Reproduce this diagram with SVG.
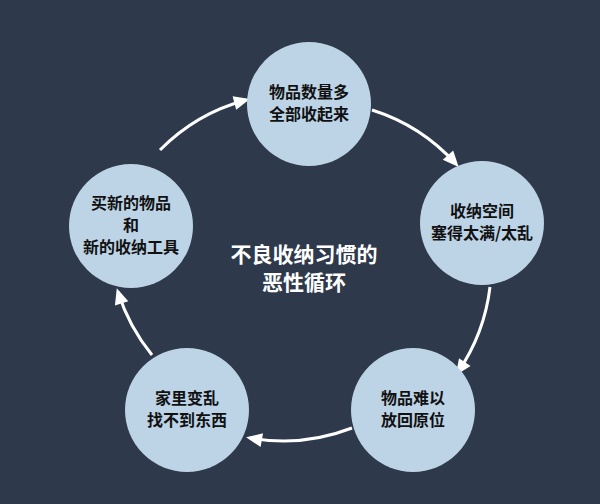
<svg xmlns="http://www.w3.org/2000/svg" width="600" height="504" viewBox="0 0 600 504">
<defs>
<style>
.n{fill:#bdd4e7}
.t{font-family:"Noto Sans CJK SC",sans-serif;font-weight:bold;font-size:16px;fill:#111;text-anchor:middle}
.c{font-family:"Noto Sans CJK SC",sans-serif;font-weight:bold;font-size:21px;fill:#fff;text-anchor:middle}
.e{fill:none;stroke:#fff;stroke-width:3;marker-end:url(#a)}
</style>
<marker id="a" viewBox="-2 -8 20 16" refX="12" refY="0" markerWidth="20" markerHeight="16" orient="auto" markerUnits="userSpaceOnUse"><path d="M0,-7 L16,0 L0,7 z" fill="#fff"/></marker>
</defs>
<rect width="600" height="504" fill="#2e394b"/>
<g id="connectors">
<path class="e" d="M160,150 A190 190 0 0 1 246,100"/>
<path class="e" d="M372,110 A190 190 0 0 1 456,164"/>
<path class="e" d="M490,287 A190 190 0 0 1 458,372"/>
<path class="e" d="M352,428 A190 190 0 0 1 250,438"/>
<path class="e" d="M152,355 A190 190 0 0 1 118,292"/>
</g>
<g id="n1"><circle class="n" cx="309" cy="104" r="62"/><text class="t" x="309" y="98">物品数量多</text><text class="t" x="309" y="120">全部收起来</text></g>
<g id="n2"><circle class="n" cx="482" cy="223" r="62"/><text class="t" x="482" y="217">收纳空间</text><text class="t" x="482" y="239">塞得太满/太乱</text></g>
<g id="n3"><circle class="n" cx="413" cy="410" r="62"/><text class="t" x="413" y="404">物品难以</text><text class="t" x="413" y="426">放回原位</text></g>
<g id="n4"><circle class="n" cx="187" cy="410" r="62"/><text class="t" x="187" y="404">家里变乱</text><text class="t" x="187" y="426">找不到东西</text></g>
<g id="n5"><circle class="n" cx="131" cy="226" r="62"/><text class="t" x="131" y="209">买新的物品</text><text class="t" x="131" y="231">和</text><text class="t" x="131" y="253">新的收纳工具</text></g>
<g id="center"><text class="c" x="304" y="262">不良收纳习惯的</text><text class="c" x="304" y="290">恶性循环</text></g>
</svg>
